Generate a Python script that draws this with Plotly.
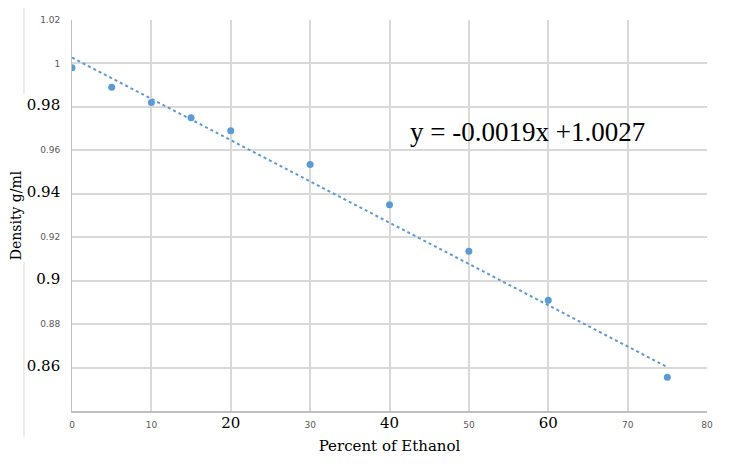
import plotly.graph_objects as go

# measured density of water/ethanol mixtures
percent_ethanol = [0, 5, 10, 15, 20, 30, 40, 50, 60, 75]
density = [0.998, 0.989, 0.982, 0.975, 0.969, 0.9535, 0.935, 0.9135, 0.891, 0.8555]

# linear fit shown on the chart
slope = -0.0019
intercept = 1.0027
fit_x = [0, 75]

x_ticks = [0, 10, 20, 30, 40, 50, 60, 70, 80]
x_big = [20, 40, 60]
y_ticks = [0.86, 0.88, 0.90, 0.92, 0.94, 0.96, 0.98, 1.00, 1.02]
y_labels = ["0.86", "0.88", "0.9", "0.92", "0.94", "0.96", "0.98", "1", "1.02"]
y_big = ["0.86", "0.9", "0.94", "0.98"]

BLUE = "#5b9bd5"
SERIF = "DejaVu Serif"
TIMES = "Liberation Serif"


def tick_label(text, big):
    # some labels in the original were pasted over in a larger serif font
    if big:
        return f'<span style="font-size:15px;font-family:{SERIF};fill:#000">{text}</span>'
    return text


fig = go.Figure()

fig.add_trace(
    go.Scatter(
        x=fit_x,
        y=[slope * x + intercept for x in fit_x],
        mode="lines",
        line=dict(color=BLUE, width=2, dash="dot"),
        showlegend=False,
    )
)

fig.add_trace(
    go.Scatter(
        x=percent_ethanol,
        y=density,
        mode="markers",
        marker=dict(color=BLUE, size=7, symbol="circle"),
        showlegend=False,
    )
)

fig.add_annotation(
    x=0.717,
    y=0.714,
    xref="paper",
    yref="paper",
    xanchor="center",
    yanchor="middle",
    text="y = -0.0019x +1.0027",
    showarrow=False,
    font=dict(family=TIMES, size=27, color="#000"),
)

# leftover border line of the original chart frame
for y0, y1 in [(1.06, 0.811), (0.381, -0.066)]:
    fig.add_shape(
        type="line",
        xref="paper",
        yref="paper",
        x0=-0.0756,
        x1=-0.0756,
        y0=y0,
        y1=y1,
        line=dict(color="#d9d9d9", width=1),
    )

# page body keeps an 8px margin, so the figure is a bit smaller
fig.update_layout(
    width=721,
    height=456,
    margin=dict(l=64, r=22, t=12, b=53),
    paper_bgcolor="white",
    plot_bgcolor="white",
    font=dict(family="DejaVu Sans", size=9, color="#595959"),
    xaxis=dict(
        range=[0, 80],
        tickvals=x_ticks,
        ticktext=[tick_label(str(v), v in x_big) for v in x_ticks],
        showgrid=True,
        gridcolor="#d9d9d9",
        gridwidth=1.5,
        showline=True,
        linecolor="#bfbfbf",
        linewidth=2,
        zeroline=False,
        ticks="",
        ticklabelstandoff=4,
        automargin=False,
        title=dict(
            text="Percent of Ethanol",
            font=dict(family=SERIF, size=15, color="#000"),
            standoff=10,
        ),
    ),
    yaxis=dict(
        range=[0.84, 1.02],
        tickvals=y_ticks,
        ticktext=[tick_label(t, t in y_big) for t in y_labels],
        showgrid=True,
        gridcolor="#d9d9d9",
        gridwidth=1.5,
        showline=True,
        linecolor="#bfbfbf",
        linewidth=1,
        zeroline=False,
        ticks="",
        ticklabelstandoff=9,
        automargin=False,
        title=dict(
            text="Density g/ml",
            font=dict(family=SERIF, size=14, color="#000"),
            standoff=8,
        ),
    ),
)

fig.write_html("out.html")
